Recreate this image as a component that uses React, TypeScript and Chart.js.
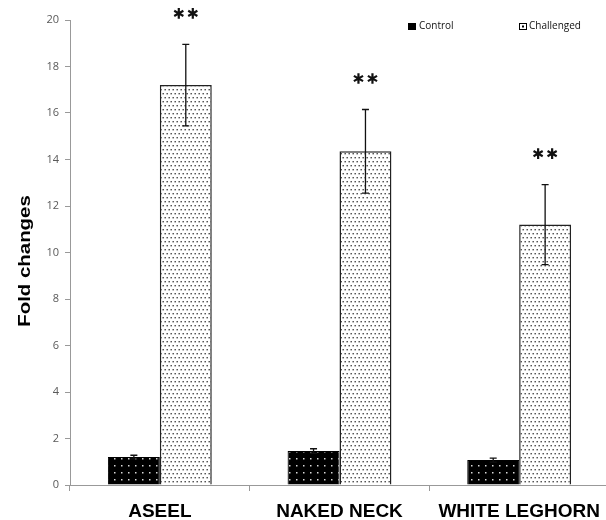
import React, { useEffect, useRef } from "react";
import { Chart, registerables } from "chart.js";

Chart.register(...registerables);

const categories = ["ASEEL", "NAKED NECK", "WHITE LEGHORN"];
const controlValues = [1.2, 1.46, 1.07];
const controlErrors = [0.08, 0.1, 0.09];
const challengedValues = [17.2, 14.35, 11.2];
const challengedErrors = [1.75, 1.8, 1.72];
const significance = ["**", "**", "**"];
const seriesNames = ["Control", "Challenged"];
const yTicks = [0, 2, 4, 6, 8, 10, 12, 14, 16, 18, 20];

function makeControlPattern(): CanvasPattern | string {
  const c = document.createElement("canvas");
  c.width = 7;
  c.height = 7;
  const ctx = c.getContext("2d");
  if (!ctx) return "#000";
  ctx.fillStyle = "#000";
  ctx.fillRect(0, 0, 7, 7);
  ctx.fillStyle = "#d8d8d8";
  ctx.fillRect(2, 3, 1.5, 1.5);
  return ctx.createPattern(c, "repeat") || "#000";
}

function makeChallengedPattern(): CanvasPattern | string {
  const c = document.createElement("canvas");
  c.width = 4;
  c.height = 8;
  const ctx = c.getContext("2d");
  if (!ctx) return "#fff";
  ctx.fillStyle = "#fff";
  ctx.fillRect(0, 0, 4, 8);
  ctx.fillStyle = "#444";
  ctx.fillRect(0.5, 1, 1.4, 1.4);
  ctx.fillRect(2.5, 5, 1.4, 1.4);
  return ctx.createPattern(c, "repeat") || "#fff";
}

const errorPlugin = {
  id: "errorBarsStars",
  afterDatasetsDraw(chart: any) {
    const ctx = chart.ctx;
    const yScale = chart.scales.y;
    const errs = [controlErrors, challengedErrors];
    ctx.save();
    chart.data.datasets.forEach((ds: any, di: number) => {
      const meta = chart.getDatasetMeta(di);
      meta.data.forEach((bar: any, i: number) => {
        const v = ds.data[i];
        const e = errs[di][i];
        const x = bar.x;
        const yTop = yScale.getPixelForValue(v + e);
        const yBot = yScale.getPixelForValue(v - e);
        ctx.strokeStyle = "#111";
        ctx.lineWidth = 1.3;
        ctx.beginPath();
        ctx.moveTo(x, yTop);
        ctx.lineTo(x, yBot);
        ctx.moveTo(x - 3.5, yTop);
        ctx.lineTo(x + 3.5, yTop);
        ctx.moveTo(x - 3.5, yBot);
        ctx.lineTo(x + 3.5, yBot);
        ctx.stroke();
        if (di === 1 && significance[i]) {
          const cy = yTop - 31;
          const n = significance[i].length;
          for (let k = 0; k < n; k++) {
            const cx = x + (k - (n - 1) / 2) * 14;
            ctx.lineWidth = 2.2;
            ctx.strokeStyle = "#111";
            ctx.beginPath();
            for (let a = 0; a < 3; a++) {
              const ang = Math.PI / 2 + (a * Math.PI) / 3;
              const r = 5.3;
              ctx.moveTo(cx + Math.cos(ang) * r, cy + Math.sin(ang) * r);
              ctx.lineTo(cx - Math.cos(ang) * r, cy - Math.sin(ang) * r);
            }
            ctx.stroke();
          }
        }
      });
    });
    ctx.restore();
  },
};

const decorPlugin = {
  id: "decor",
  afterDraw(chart: any) {
    const ctx = chart.ctx;
    ctx.save();
    // y axis title
    ctx.translate(25, 261);
    ctx.rotate(-Math.PI / 2);
    ctx.scale(1.2, 1);
    ctx.font = "bold 17px 'Liberation Sans', Arial, sans-serif";
    ctx.fillStyle = "#000";
    ctx.textAlign = "center";
    ctx.textBaseline = "middle";
    ctx.fillText("Fold changes", 0, 0);
    ctx.restore();

    // legend
    ctx.save();
    ctx.font = "10px 'Open Sans', sans-serif";
    ctx.textBaseline = "middle";
    ctx.fillStyle = "#000";
    ctx.fillRect(408, 23, 8, 7);
    ctx.fillStyle = "#111";
    ctx.fillText(seriesNames[0], 419, 26.5);
    ctx.fillStyle = "#fff";
    ctx.fillRect(519, 23, 8, 7);
    ctx.strokeStyle = "#000";
    ctx.lineWidth = 1;
    ctx.strokeRect(519.5, 23.5, 7, 6);
    ctx.fillStyle = "#000";
    ctx.fillRect(522, 25.5, 2, 2);
    ctx.fillStyle = "#111";
    ctx.fillText(seriesNames[1], 529, 26.5);
    ctx.restore();
  },
};

export default function App() {
  const ref = useRef<HTMLCanvasElement | null>(null);
  useEffect(() => {
    if (!ref.current) return;
    const chart = new Chart(ref.current, {
      type: "bar",
      data: {
        labels: categories,
        datasets: [
          {
            label: seriesNames[0],
            data: controlValues,
            backgroundColor: makeControlPattern() as any,
            borderColor: "#000",
            borderWidth: 1,
            categoryPercentage: 0.578,
            barPercentage: 1,
          },
          {
            label: seriesNames[1],
            data: challengedValues,
            backgroundColor: makeChallengedPattern() as any,
            borderColor: "#222",
            borderWidth: 1.5,
            categoryPercentage: 0.578,
            barPercentage: 1,
          },
        ],
      },
      options: {
        responsive: false,
        animation: false,
        layout: { padding: { top: 20, right: 3, left: 0, bottom: 0 } },
        plugins: {
          legend: { display: false },
          tooltip: { enabled: false },
        },
        scales: {
          x: {
            grid: {
              offset: true,
              drawOnChartArea: false,
              drawTicks: true,
              tickLength: 6,
              color: "#999",
            },
            border: { color: "#999", width: 1 },
            ticks: {
              color: "#000",
              padding: 9,
              font: { family: "'Liberation Sans', Arial, sans-serif", size: 19, weight: "bold" },
            },
            afterFit(scale: any) {
              scale.height = 35;
            },
          },
          y: {
            min: 0,
            max: 20,
            afterBuildTicks(scale: any) {
              scale.ticks = yTicks.map((v) => ({ value: v }));
            },
            grid: {
              drawOnChartArea: false,
              drawTicks: true,
              tickLength: 5,
              color: "#999",
            },
            border: { color: "#999", width: 1 },
            ticks: {
              color: "#595959",
              padding: 6,
              font: { family: "'Open Sans', sans-serif", size: 11 },
            },
            afterFit(scale: any) {
              scale.width = 70;
            },
          },
        },
      },
      plugins: [errorPlugin, decorPlugin],
    });
    return () => chart.destroy();
  }, []);
  return (
    <div
      style={{
        position: "fixed",
        top: 0,
        left: 0,
        width: 606,
        height: 520,
        overflow: "hidden",
        background: "#fff",
      }}
    >
      <canvas ref={ref} width={612} height={520} style={{ display: "block" }} />
    </div>
  );
}
